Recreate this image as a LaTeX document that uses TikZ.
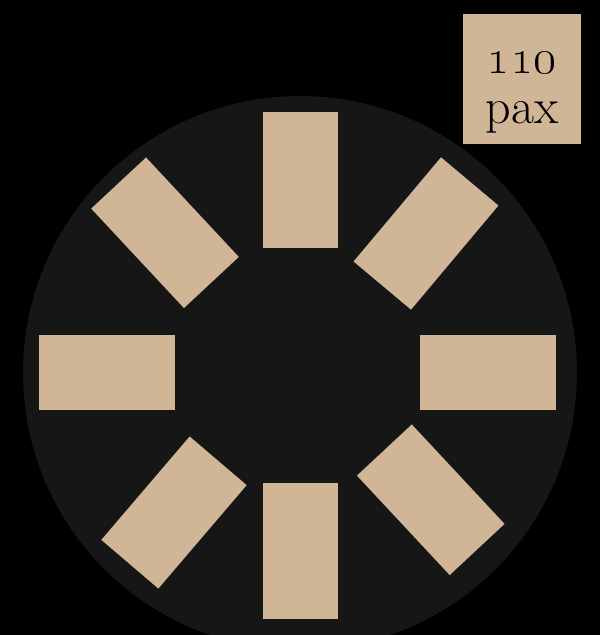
\RequirePackage{fix-cm}
\documentclass[tikz,border=0pt]{standalone}
\definecolor{tan}{HTML}{D1B597}
\definecolor{floor}{HTML}{161616}
\tikzset{
  seat/.style={fill=tan, inner sep=0pt, minimum width=75, minimum height=136},
  tag/.style={fill=tan, inner sep=0pt, minimum width=118, minimum height=130},
  paxtext/.style={anchor=base, inner sep=0pt, text=black, font=\fontsize{50}{50}\selectfont}
}
\begin{document}
\begin{tikzpicture}[x=1pt, y=-1pt]
  \useasboundingbox (0,0) rectangle (600,635);
  \clip (0,0) rectangle (600,635);
  \fill[black] (0,0) rectangle (600,635);
  % table
  \fill[floor] (300,373) circle (277);
  % seats round the table
  \foreach \px/\py/\ang [count=\i] in {300/180/0, 426/233.5/-40, 487.5/372.5/90, 430.75/499.75/43,
      300/551/0, 174/512.5/-40.5, 106.5/372.5/90, 165/232.75/43}{
    \node[seat, rotate=\ang] (seat\i) at (\px,\py) {};
  }
  % guest count
  \node[tag] (count) at (522,79) {};
  \node[paxtext] (num) at (count.center |- 0,73) {\oldstylenums{110}};
  \node[paxtext] (unit) at (count.center |- 0,123) {pax};
\end{tikzpicture}
\end{document}
